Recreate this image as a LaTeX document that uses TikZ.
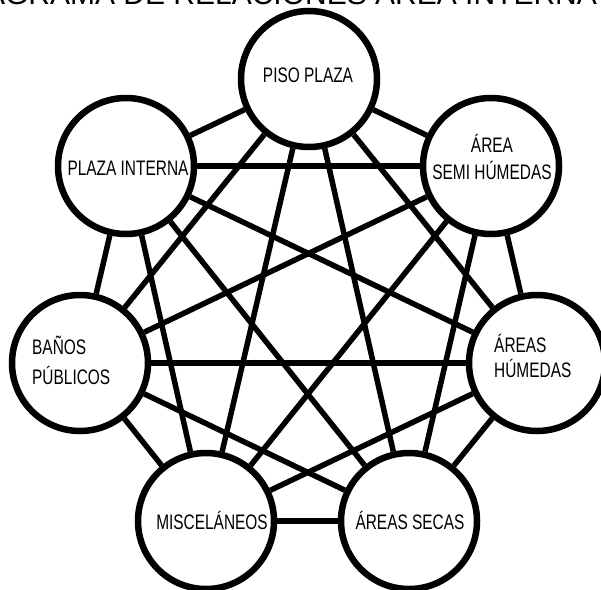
\documentclass[tikz,border=0pt]{standalone}
\usepackage{fontspec}
\usepackage{tikz}
\usetikzlibrary{positioning}
\newfontfamily\narrowsans[FakeStretch=0.735]{Liberation Sans}
\newfontfamily\headsans{Liberation Sans}
\tikzset{
  room/.style={
    circle,
    draw=black,
    line width=6.5pt,
    fill=white,
    minimum size=136pt,
    inner sep=0pt
  },
  roomtext/.style={
    font=\narrowsans\fontsize{21}{27}\selectfont,
    inner sep=0pt,
    anchor=base
  },
  link/.style={line width=5.5pt, draw=black},
  heading/.style={font=\headsans\fontsize{30}{36}\selectfont, anchor=base, inner sep=0pt}
}

\begin{document}
\begin{tikzpicture}[x=1pt,y=-1pt]
\useasboundingbox (0,0) rectangle (601,589);
\fill[white] (0,0) rectangle (601,589);

\node[heading] (title) at (276,5) {DIAGRAMA DE RELACIONES ÁREA INTERNA};

\node[room] (piso) at (309,79) {};
\node[room] (plazaint) at (126,166) {};
\node[room] (semihum) at (491,166) {};
\node[room] (banos) at (80,363) {};
\node[room] (humedas) at (537,363) {};
\node[room] (misc) at (206,521) {};
\node[room] (secas) at (409,521) {};

% base anchor of a two-line text sits on its last line
\node[roomtext] (pisotext) at (308,82) {PISO PLAZA};
\node[roomtext] (plazatext) at (128,175) {PLAZA INTERNA};
\node[roomtext, align=center] (semitext) at (492,179) {ÁREA\\SEMI HÚMEDAS};
\node[roomtext, anchor=base west, align=left, font=\narrowsans\fontsize{21}{30}\selectfont] (banostext) at (32,384) {BAÑOS\\PÚBLICOS};
\node[roomtext, anchor=base west, align=left, font=\narrowsans\fontsize{21}{25}\selectfont] (humedastext) at (494,377) {ÁREAS\\HÚMEDAS};
\node[roomtext] (misctext) at (212,529) {MISCELÁNEOS};
\node[roomtext] (secastext) at (410,529) {ÁREAS SECAS};

\draw[link] (piso) -- (plazaint);
\draw[link] (piso) -- (semihum);
\draw[link] (piso) -- (banos);
\draw[link] (piso) -- (humedas);
\draw[link] (piso) -- (misc);
\draw[link] (piso) -- (secas);
\draw[link] (plazaint) -- (semihum);
\draw[link] (plazaint) -- (banos);
\draw[link] (plazaint) -- (humedas);
\draw[link] (plazaint) -- (misc);
\draw[link] (plazaint) -- (secas);
\draw[link] (semihum) -- (banos);
\draw[link] (semihum) -- (humedas);
\draw[link] (semihum) -- (misc);
\draw[link] (semihum) -- (secas);
\draw[link] (banos) -- (humedas);
\draw[link] (banos) -- (misc);
\draw[link] (banos) -- (secas);
\draw[link] (humedas) -- (misc);
\draw[link] (humedas) -- (secas);
\draw[link] (misc) -- (secas);

\end{tikzpicture}
\end{document}
